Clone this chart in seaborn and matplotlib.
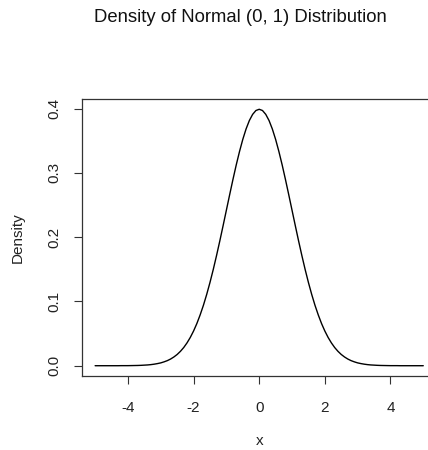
import matplotlib
matplotlib.use('Agg')
import matplotlib.pyplot as plt
import seaborn as sns
import pandas as pd

x_vals = [-5.0, -4.9, -4.8, -4.7, -4.6, -4.5, -4.4, -4.3, -4.2, -4.1,
          -4.0, -3.9, -3.8, -3.7, -3.6, -3.5, -3.4, -3.3, -3.2, -3.1,
          -3.0, -2.9, -2.8, -2.7, -2.6, -2.5, -2.4, -2.3, -2.2, -2.1,
          -2.0, -1.9, -1.8, -1.7, -1.6, -1.5, -1.4, -1.3, -1.2, -1.1,
          -1.0, -0.9, -0.8, -0.7, -0.6, -0.5, -0.4, -0.3, -0.2, -0.1,
          0.0, 0.1, 0.2, 0.3, 0.4, 0.5, 0.6, 0.7, 0.8, 0.9,
          1.0, 1.1, 1.2, 1.3, 1.4, 1.5, 1.6, 1.7, 1.8, 1.9,
          2.0, 2.1, 2.2, 2.3, 2.4, 2.5, 2.6, 2.7, 2.8, 2.9,
          3.0, 3.1, 3.2, 3.3, 3.4, 3.5, 3.6, 3.7, 3.8, 3.9,
          4.0, 4.1, 4.2, 4.3, 4.4, 4.5, 4.6, 4.7, 4.8, 4.9, 5.0]
density = [0.0000, 0.0000, 0.0000, 0.0000, 0.0000, 0.0000, 0.0000, 0.0000, 0.0001, 0.0001,
           0.0001, 0.0002, 0.0003, 0.0004, 0.0006, 0.0009, 0.0012, 0.0017, 0.0024, 0.0033,
           0.0044, 0.0060, 0.0079, 0.0104, 0.0136, 0.0175, 0.0224, 0.0283, 0.0355, 0.0440,
           0.0540, 0.0656, 0.0790, 0.0940, 0.1109, 0.1295, 0.1497, 0.1714, 0.1942, 0.2179,
           0.2420, 0.2661, 0.2897, 0.3123, 0.3332, 0.3521, 0.3683, 0.3814, 0.3910, 0.3970,
           0.3989, 0.3970, 0.3910, 0.3814, 0.3683, 0.3521, 0.3332, 0.3123, 0.2897, 0.2661,
           0.2420, 0.2179, 0.1942, 0.1714, 0.1497, 0.1295, 0.1109, 0.0940, 0.0790, 0.0656,
           0.0540, 0.0440, 0.0355, 0.0283, 0.0224, 0.0175, 0.0136, 0.0104, 0.0079, 0.0060,
           0.0044, 0.0033, 0.0024, 0.0017, 0.0012, 0.0009, 0.0006, 0.0004, 0.0003, 0.0002,
           0.0001, 0.0001, 0.0001, 0.0000, 0.0000, 0.0000, 0.0000, 0.0000, 0.0000, 0.0000, 0.0000]
x_ticks = [-4, -2, 0, 2, 4]
y_ticks = [0.0, 0.1, 0.2, 0.3, 0.4]
y_tick_labels = ['0.0', '0.1', '0.2', '0.3', '0.4']
title = 'Density of Normal (0, 1) Distribution'

sns.set_style('white')
plt.rcParams['font.family'] = ['Liberation Sans', 'DejaVu Sans']

fig = plt.figure(figsize=(4.28, 4.5), dpi=100)
ax = fig.add_axes([82 / 428, 74 / 450, 354.4 / 428, 277 / 450])

df = pd.DataFrame({'x': x_vals, 'Density': density})
sns.lineplot(data=df, x='x', y='Density', color='black', lw=1, ax=ax)

ax.set_xlim(-5.4, 5.4)
ax.set_ylim(-0.016, 0.4149)
ax.set_xticks(x_ticks)
ax.set_xticklabels([str(t) for t in x_ticks])
ax.set_yticks(y_ticks)
ax.set_yticklabels(y_tick_labels, rotation=90, va='center')

for s in ax.spines.values():
    s.set_visible(True)
    s.set_color('#333333')
    s.set_linewidth(0.9)

ax.tick_params(axis='both', direction='out', length=6, width=0.8, color='#333333',
               labelsize=11, labelcolor='#222222')
ax.tick_params(axis='x', pad=12, bottom=True)
ax.tick_params(axis='y', pad=9, left=True)

ax.set_xlabel('x', fontsize=11, color='#222222', va='center')
ax.xaxis.set_label_coords(0.5, -0.235)
ax.set_ylabel('Density', fontsize=11, color='#222222', va='center')
ax.yaxis.set_label_coords(-0.181, 0.5)

fig.text(240 / 428, 1 - 18 / 450, title, ha='center', va='center', fontsize=13.3, color='#111111')

fig.savefig('out.png', dpi=100, facecolor='white')
